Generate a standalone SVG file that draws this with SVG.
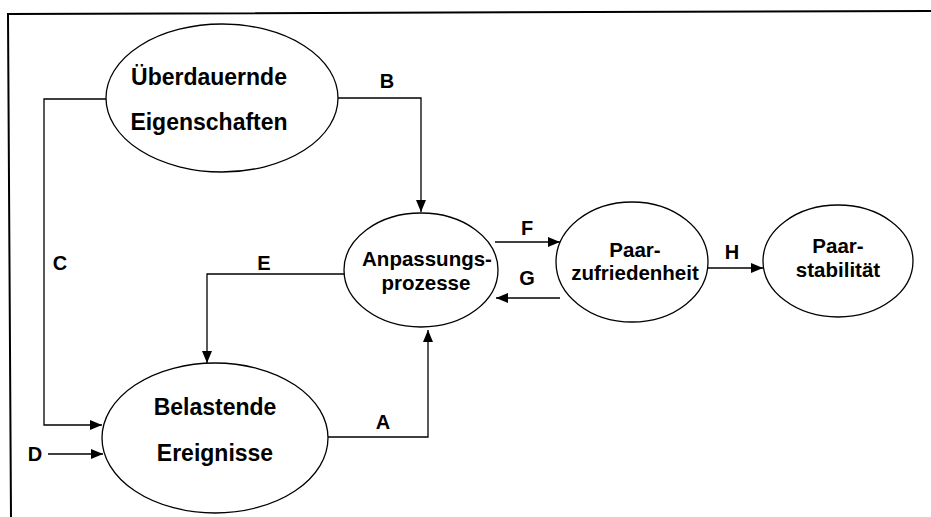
<svg xmlns="http://www.w3.org/2000/svg" width="931" height="517" viewBox="0 0 931 517">
<defs>
<marker id="arr" markerWidth="12" markerHeight="10" refX="12" refY="5" orient="auto" markerUnits="userSpaceOnUse">
<path d="M0,0 L12,5 L0,10 Z" fill="#000"/>
</marker>
<style>
.node{fill:#fff;stroke:#000;stroke-width:1.3}
.t{font-family:"Liberation Sans",Arial,sans-serif;font-weight:bold;fill:#000;text-anchor:middle}
.big{font-size:23px}
.mid{font-size:20.5px}
.lab{font-size:20px}
.edge{fill:none;stroke:#000;stroke-width:1.3}
</style>
</defs>
<rect width="931" height="517" fill="#fff"/>
<path d="M931,11 L8,14 L11,517" fill="none" stroke="#000" stroke-width="2"/>
<g id="connectors">
<path class="edge" d="M107,99 H44 V425 H102" marker-end="url(#arr)"/>
<path class="edge" d="M338,98 H421 V212" marker-end="url(#arr)"/>
<path class="edge" d="M345,274 H207 V363" marker-end="url(#arr)"/>
<path class="edge" d="M328,437 H428 V330" marker-end="url(#arr)"/>
<path class="edge" d="M48,454 H103" marker-end="url(#arr)"/>
<path class="edge" d="M495,242 H560" marker-end="url(#arr)"/>
<path class="edge" d="M560,298 H496" marker-end="url(#arr)"/>
<path class="edge" d="M707,268 H763" marker-end="url(#arr)"/>
<text class="t lab" x="387" y="88">B</text>
<text class="t lab" x="60" y="270">C</text>
<text class="t lab" x="264" y="270">E</text>
<text class="t lab" x="383" y="429">A</text>
<text class="t lab" x="35" y="461">D</text>
<text class="t lab" x="527" y="235">F</text>
<text class="t lab" x="527" y="285">G</text>
<text class="t lab" x="732" y="259">H</text>
</g>
<g id="ueberdauernde">
<ellipse class="node" cx="222" cy="98" rx="116" ry="74"/>
<text class="t big" x="209" y="85">Überdauernde</text>
<text class="t big" x="209" y="130">Eigenschaften</text>
</g>
<g id="anpassung">
<ellipse class="node" cx="421" cy="270" rx="77" ry="57"/>
<text class="t mid" x="427" y="266">Anpassungs-</text>
<text class="t mid" x="426" y="290">prozesse</text>
</g>
<g id="belastende">
<ellipse class="node" cx="215" cy="438" rx="113" ry="75"/>
<text class="t big" x="215" y="415">Belastende</text>
<text class="t big" x="215" y="461">Ereignisse</text>
</g>
<g id="zufriedenheit">
<ellipse class="node" cx="632" cy="262" rx="76" ry="60"/>
<text class="t mid" x="635" y="257">Paar-</text>
<text class="t mid" x="635" y="280">zufriedenheit</text>
</g>
<g id="stabilitaet">
<ellipse class="node" cx="838" cy="261" rx="75" ry="56"/>
<text class="t mid" x="838" y="253">Paar-</text>
<text class="t mid" x="838" y="277">stabilität</text>
</g>
</svg>
